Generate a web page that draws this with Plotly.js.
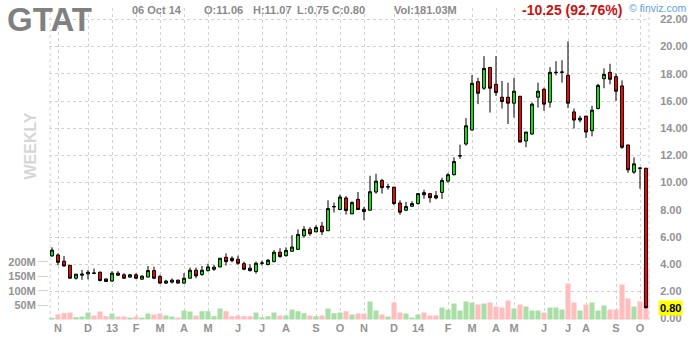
<!DOCTYPE html>
<html><head><meta charset="utf-8">
<script src="https://cdn.plot.ly/plotly-3.0.1.min.js"></script>
<style>html,body{margin:0;padding:0;background:#fff}#chart{width:700px;height:340px}</style>
</head><body><div id="chart"></div>
<script>
const ticker = 'GTAT';
const period = 'WEEKLY';
const dates = [
'2012-11-12','2012-11-19','2012-11-26','2012-12-03','2012-12-10','2012-12-17','2012-12-24','2012-12-31',
'2013-01-07','2013-01-14','2013-01-21','2013-01-28','2013-02-04','2013-02-11','2013-02-18','2013-02-25',
'2013-03-04','2013-03-11','2013-03-18','2013-03-25','2013-04-01','2013-04-08','2013-04-15','2013-04-22',
'2013-04-29','2013-05-06','2013-05-13','2013-05-20','2013-05-27','2013-06-03','2013-06-10','2013-06-17',
'2013-06-24','2013-07-01','2013-07-08','2013-07-15','2013-07-22','2013-07-29','2013-08-05','2013-08-12',
'2013-08-19','2013-08-26','2013-09-02','2013-09-09','2013-09-16','2013-09-23','2013-09-30','2013-10-07',
'2013-10-14','2013-10-21','2013-10-28','2013-11-04','2013-11-11','2013-11-18','2013-11-25','2013-12-02',
'2013-12-09','2013-12-16','2013-12-23','2013-12-30','2014-01-06','2014-01-13','2014-01-20','2014-01-27',
'2014-02-03','2014-02-10','2014-02-17','2014-02-24','2014-03-03','2014-03-10','2014-03-17','2014-03-24',
'2014-03-31','2014-04-07','2014-04-14','2014-04-21','2014-04-28','2014-05-05','2014-05-12','2014-05-19',
'2014-05-26','2014-06-02','2014-06-09','2014-06-16','2014-06-23','2014-06-30','2014-07-07','2014-07-14',
'2014-07-21','2014-07-28','2014-08-04','2014-08-11','2014-08-18','2014-08-25','2014-09-01','2014-09-08',
'2014-09-15','2014-09-22','2014-09-29','2014-10-06'];
const open = [4.61,4.68,4.22,3.92,2.97,3.19,3.29,3.36,3.41,2.92, 2.76,3.34,3.22,3.05,3.22,2.90,3.05,3.53,3.09,2.61,
 2.68,2.83,2.61,2.97,3.56,3.24,3.53,3.63,3.80,4.51, 4.44,4.36,4.04,3.71,3.46,4.07,3.97,4.19,4.88,4.63,
 4.95,5.09,6.09,6.56,6.38,6.80,6.46,8.21,8.02,8.87, 7.70,8.77,8.04,7.97,9.31,10.16,9.67,9.67,8.50,7.97,
 8.26,8.46,9.26,9.19,9.04,9.28,10.11,10.58,11.95,12.84, 13.87,17.42,16.94,18.47,17.23,16.28,16.28,15.84,16.35,13.06,
 13.57,16.28,16.86,15.91,18.08,18.11,17.89,15.20,14.60,14.89, 13.82,15.45,17.64,18.11,17.79,17.11,12.77,10.77,11.08,11.06];
const high = [5.24,4.80,4.61,3.93,3.27,3.58,3.58,3.68,3.46,2.92, 3.49,3.49,3.34,3.29,3.34,3.19,3.87,3.82,3.22,2.85,
 2.95,2.85,3.34,3.75,3.75,3.87,4.04,3.95,4.44,4.80, 4.58,4.63,4.19,4.00,4.19,4.26,4.39,5.04,5.17,5.24,
 6.14,6.56,6.80,6.73,6.87,7.11,8.70,8.53,9.11,9.01, 8.63,9.31,8.21,10.50,10.65,10.28,9.92,9.67,8.70,8.58,
 8.63,9.24,9.48,9.24,9.38,10.36,10.70,11.86,12.79,14.74, 17.91,17.71,19.30,18.47,19.30,17.47,17.35,17.71,16.35,13.72,
 15.89,17.35,16.98,18.49,18.93,19.00,20.39,15.45,14.92,14.89, 15.65,17.27,18.40,18.74,18.03,17.52,12.77,11.86,11.12,11.07];
const low = [4.55,3.92,3.82,2.95,2.87,2.85,2.88,3.27,2.73,2.73, 2.70,3.14,2.92,3.00,2.90,2.85,3.05,2.90,2.56,2.54,
 2.58,2.59,2.58,2.95,2.97,3.14,3.46,3.51,3.78,3.90, 4.14,3.95,3.56,3.46,3.31,3.90,3.92,4.14,4.48,4.56,
 4.92,5.04,5.95,6.09,6.36,6.14,6.46,7.80,7.97,7.65, 7.68,8.00,7.24,7.97,9.19,9.19,9.48,8.33,7.63,7.90,
 8.21,8.38,8.82,8.53,8.77,8.80,10.00,10.53,11.75,12.72, 13.82,15.77,16.82,15.15,16.37,15.45,14.31,14.79,12.94,12.60,
 13.52,15.52,15.28,15.52,17.89,17.35,15.47,13.98,14.43,13.28, 13.40,15.38,16.94,17.23,16.01,12.48,10.72,10.65,9.55,0.75];
const close = [5.04,4.14,3.87,2.97,3.27,3.27,3.41,3.33,2.80,2.73, 3.34,3.19,2.97,3.22,2.97,3.12,3.53,2.97,2.61,2.76,
 2.83,2.61,2.97,3.56,3.14,3.56,3.80,3.78,4.44,4.19, 4.26,4.07,3.63,3.53,4.07,4.09,4.29,4.88,4.56,5.02,
 5.26,6.19,6.56,6.24,6.70,6.38,8.09,8.24,8.94,7.95, 8.53,8.02,7.87,9.33,10.11,9.63,9.70,8.46,7.82,8.24,
 8.46,9.19,9.11,8.89,8.87,10.16,10.58,11.55,11.98,14.18, 17.30,16.57,18.40,16.94,16.62,15.96,15.84,16.72,12.99,13.72,
 15.77,16.72,15.77,18.11,18.11,18.13,15.84,14.60,14.74,13.72, 15.33,17.15,17.96,17.60,16.72,12.60,10.94,11.38,11.05,0.80];
// weekly volume, millions of shares
const volume = [5.9,17.4,21.9,24.3,8.0,10.4,24.3,13.9,27.8,11.5, 20.8,10.4,10.4,6.9,10.4,6.9,20.8,17.4,20.8,13.9,
 10.4,6.9,31.2,27.8,13.9,28.8,28.8,11.5,38.2,28.8, 11.5,13.9,11.5,11.5,24.3,8.0,11.5,24.3,13.9,13.9,
 34.7,28.8,21.9,13.9,11.5,13.9,38.2,21.9,24.3,28.8, 17.4,20.8,20.8,62.5,31.2,17.4,10.4,59.0,24.3,20.8,
 6.9,17.4,24.3,13.9,13.9,41.6,34.7,55.5,31.2,62.5, 59.0,52.1,55.5,59.0,45.1,41.6,65.9,38.2,52.1,45.1,
 31.2,31.2,24.3,41.6,41.6,34.7,124.9,59.0,31.2,52.1, 59.0,31.2,48.6,34.7,34.7,121.5,72.9,45.1,62.5,181.03];
const monthTickDates = ['2012-11-19','2012-12-24','2013-01-21','2013-02-18','2013-03-18','2013-04-15','2013-05-13',
 '2013-06-17','2013-07-15','2013-08-12','2013-09-16','2013-10-14','2013-11-11','2013-12-16','2014-01-13','2014-02-17',
 '2014-03-17','2014-04-14','2014-05-05','2014-06-09','2014-07-07','2014-07-28','2014-09-01','2014-09-29'];
const monthTickLabels = ['N','D','13','F','M','A','M','J','J','A','S','O','N','D','14','F','M','A','M','J','J','A','S','O'];
const priceTicks = [0,2,4,6,8,10,12,14,16,18,20,22];
const volumeTicks = [50,100,150,200];
const volumeTickLabels = ['50M','100M','150M','200M'];

const FONT = 'Liberation Sans, Arial, sans-serif';
const L = 49, T = 8, W = 600, H = 312;
const px2x = X => (X - L) / W;
const px2y = Y => (T + H - Y) / H;

const n = close.length;
const volColors = close.map((c, i) => c >= open[i] ? '#a9dfa6' : '#ffbdbd');
const lastDate = new Date(dates[n - 1] + 'T00:00:00Z');
const mon = ['Jan','Feb','Mar','Apr','May','Jun','Jul','Aug','Sep','Oct','Nov','Dec'];
const dateText = String(lastDate.getUTCDate()).padStart(2, '0') + ' ' + mon[lastDate.getUTCMonth()] + ' ' + String(lastDate.getUTCFullYear()).slice(2);
const chg = close[n - 1] - close[n - 2];
const pct = Math.abs(chg / close[n - 2] * 100);

const volTrace = {
  type: 'bar', x: dates, y: volume, yaxis: 'y',
  marker: { color: volColors, line: { width: 0 } }, hoverinfo: 'skip'
};
const candle = {
  type: 'candlestick', x: dates, open: open, high: high, low: low, close: close, yaxis: 'y2',
  increasing: { line: { color: '#000000', width: 1 }, fillcolor: '#00ee00' },
  decreasing: { line: { color: '#000000', width: 1 }, fillcolor: '#ff0000' },
  whiskerwidth: 0, hoverinfo: 'skip'
};

const tickFont = { family: FONT, size: 11, color: '#939393', weight: 'bold' };
const hdrFont = { family: FONT, size: 11, color: '#8a8a8a', weight: 'bold' };
function hdr(text, X, Y, font, anchor) {
  return { text: text, xref: 'paper', yref: 'paper', x: px2x(X), y: px2y(Y), xanchor: anchor || 'left', yanchor: 'middle', showarrow: false, font: font };
}

const layout = {
  width: 700, height: 340,
  margin: { l: L, r: 700 - L - W, t: T, b: 340 - T - H, pad: 0 },
  paper_bgcolor: '#ffffff', plot_bgcolor: '#ffffff',
  showlegend: false, hovermode: false, bargap: 0.15,
  title: { text: ticker, x: 7 / 700, xanchor: 'left', xref: 'container', y: 1 - 19 / 340, yref: 'container', yanchor: 'middle',
           font: { family: FONT, size: 33, color: '#808080', weight: 'bold' } },
  xaxis: {
    type: 'category', range: [-0.5, n - 0.5], tickmode: 'array', tickvals: monthTickDates, ticktext: monthTickLabels,
    showgrid: true, gridcolor: '#d2d2d2', griddash: '3px,3px', gridwidth: 1, zeroline: false, showline: false,
    ticks: '', tickfont: tickFont, rangeslider: { visible: false }, fixedrange: true
  },
  yaxis: {
    side: 'left', range: [-1.7, 1081.6], tickmode: 'array', tickvals: volumeTicks, ticktext: volumeTickLabels,
    showgrid: false, zeroline: false, showline: false, ticks: 'outside', ticklen: 10, tickcolor: '#d2d2d2',
    tickfont: tickFont, fixedrange: true
  },
  yaxis2: {
    overlaying: 'y', side: 'right', range: [-0.103, 22.84], tickmode: 'array', tickvals: priceTicks, tickformat: '.2f',
    showgrid: true, gridcolor: '#d2d2d2', griddash: '3px,3px', gridwidth: 1, zeroline: false, showline: false,
    ticks: 'outside', ticklen: 8, tickcolor: 'rgba(0,0,0,0)', tickfont: tickFont, fixedrange: true
  },
  shapes: [
    { type: 'line', xref: 'paper', yref: 'paper', x0: 0.002, x1: 0.002, y0: 0, y1: 1, line: { color: '#d2d2d2', width: 1, dash: '3px,3px' }, layer: 'below' },
    { type: 'line', xref: 'paper', yref: 'paper', x0: 1, x1: 1, y0: 0, y1: 1, line: { color: '#d2d2d2', width: 1, dash: '3px,3px' }, layer: 'below' }
  ],
  annotations: [
    hdr(dateText, 130, 10.5, hdrFont),
    hdr('O:' + open[n - 1].toFixed(2), 202, 10.5, hdrFont),
    hdr('H:' + high[n - 1].toFixed(2), 251, 10.5, hdrFont),
    hdr('L:' + low[n - 1].toFixed(2), 295, 10.5, hdrFont),
    hdr('C:' + close[n - 1].toFixed(2), 330, 10.5, hdrFont),
    hdr('Vol:' + volume[n - 1].toFixed(2) + 'M', 392, 10.5, hdrFont),
    hdr((chg < 0 ? '-' : '+') + Math.abs(chg).toFixed(2) + ' (' + pct.toFixed(2) + '%)', 520, 10, { family: FONT, size: 14, color: '#cc1111', weight: 'bold' }),
    hdr('© finviz.com', 689, 8, { family: FONT, size: 10.5, color: '#5f9fe0' }, 'right'),
    { text: period, xref: 'paper', yref: 'paper', x: px2x(30), y: px2y(146.5), xanchor: 'center', yanchor: 'middle', textangle: -90,
      showarrow: false, font: { family: FONT, size: 16, color: '#d6d6d6', weight: 'bold' } },
    { text: close[n - 1].toFixed(2), xref: 'paper', yref: 'y2', x: px2x(658), y: close[n - 1], xanchor: 'left', yanchor: 'middle',
      showarrow: false, bgcolor: '#ffff00', borderpad: 1, font: { family: FONT, size: 11, color: '#000000', weight: 'bold' } }
  ]
};

Plotly.newPlot('chart', [volTrace, candle], layout, { staticPlot: true, displayModeBar: false });
</script>
</body></html>
